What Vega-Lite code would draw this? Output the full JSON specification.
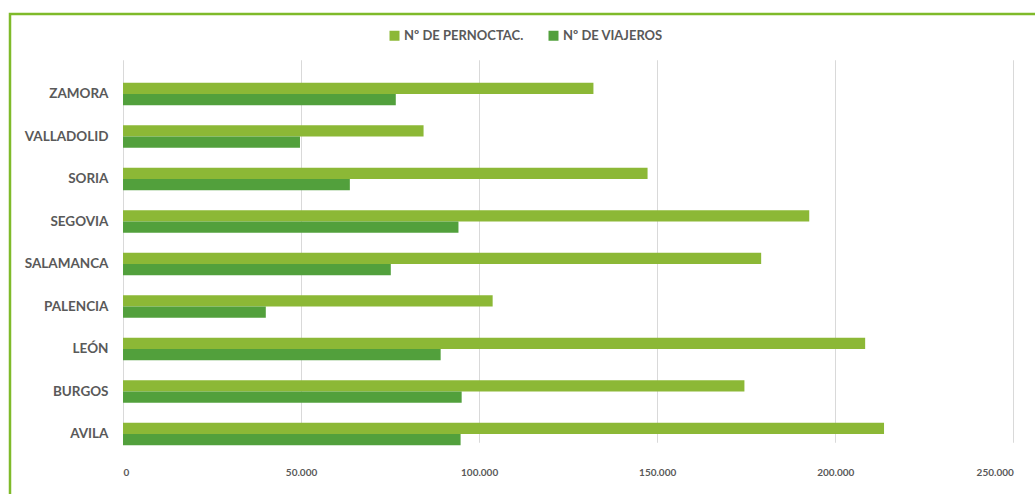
{
  "$schema": "https://vega.github.io/schema/vega-lite/v6.json",
  "autosize": "none",
  "padding": {"left": 10, "top": 14, "right": 0, "bottom": 0},
  "width": 1032,
  "height": 487,
  "background": "white",
  "config": {
    "locale": {"number": {"decimal": ",", "thousands": ".", "grouping": [3], "currency": ["", " €"]}},
    "view": {"stroke": "#7fba2a", "strokeWidth": 2.5},
    "font": "Lato"
  },
  "data": {
    "values": [
      {"provincia": "ZAMORA", "serie": "Nº DE PERNOCTAC.", "valor": 132100},
      {"provincia": "ZAMORA", "serie": "Nº DE VIAJEROS", "valor": 76600},
      {"provincia": "VALLADOLID", "serie": "Nº DE PERNOCTAC.", "valor": 84400},
      {"provincia": "VALLADOLID", "serie": "Nº DE VIAJEROS", "valor": 49700},
      {"provincia": "SORIA", "serie": "Nº DE PERNOCTAC.", "valor": 147300},
      {"provincia": "SORIA", "serie": "Nº DE VIAJEROS", "valor": 63700},
      {"provincia": "SEGOVIA", "serie": "Nº DE PERNOCTAC.", "valor": 192700},
      {"provincia": "SEGOVIA", "serie": "Nº DE VIAJEROS", "valor": 94200},
      {"provincia": "SALAMANCA", "serie": "Nº DE PERNOCTAC.", "valor": 179200},
      {"provincia": "SALAMANCA", "serie": "Nº DE VIAJEROS", "valor": 75200},
      {"provincia": "PALENCIA", "serie": "Nº DE PERNOCTAC.", "valor": 103800},
      {"provincia": "PALENCIA", "serie": "Nº DE VIAJEROS", "valor": 40100},
      {"provincia": "LEÓN", "serie": "Nº DE PERNOCTAC.", "valor": 208400},
      {"provincia": "LEÓN", "serie": "Nº DE VIAJEROS", "valor": 89200},
      {"provincia": "BURGOS", "serie": "Nº DE PERNOCTAC.", "valor": 174500},
      {"provincia": "BURGOS", "serie": "Nº DE VIAJEROS", "valor": 95100},
      {"provincia": "AVILA", "serie": "Nº DE PERNOCTAC.", "valor": 213700},
      {"provincia": "AVILA", "serie": "Nº DE VIAJEROS", "valor": 94800}
    ]
  },
  "mark": {"type": "bar"},
  "encoding": {
    "y": {
      "field": "provincia",
      "type": "nominal",
      "sort": ["ZAMORA", "VALLADOLID", "SORIA", "SEGOVIA", "SALAMANCA", "PALENCIA", "LEÓN", "BURGOS", "AVILA"],
      "scale": {"range": [58.75, 441.25], "paddingInner": 0.475, "paddingOuter": 0.2375},
      "axis": {
        "title": null,
        "orient": "left",
        "offset": -113,
        "domain": false,
        "ticks": false,
        "tickSize": 0,
        "labelPadding": 15,
        "labelFont": "Lato",
        "labelFontWeight": "bold",
        "labelFontSize": 13.5,
        "labelColor": "#595959"
      }
    },
    "yOffset": {
      "field": "serie",
      "type": "nominal",
      "sort": ["Nº DE PERNOCTAC.", "Nº DE VIAJEROS"],
      "scale": {"paddingInner": 0, "paddingOuter": 0}
    },
    "x": {
      "field": "valor",
      "type": "quantitative",
      "scale": {"domain": [0, 250000], "range": [113, 1003.3], "nice": false},
      "axis": {
        "title": null,
        "orient": "bottom",
        "offset": -46,
        "values": [0, 50000, 100000, 150000, 200000, 250000],
        "format": ",d",
        "domain": false,
        "ticks": false,
        "tickSize": 0,
        "labelPadding": 12,
        "labelFont": "Lato",
        "labelFontWeight": "bold",
        "labelFontSize": 10,
        "labelColor": "#595959",
        "grid": true,
        "gridColor": "#d9d9d9",
        "gridWidth": 1
      }
    },
    "color": {
      "field": "serie",
      "type": "nominal",
      "scale": {"domain": ["Nº DE PERNOCTAC.", "Nº DE VIAJEROS"], "range": ["#8cb836", "#52a03c"]},
      "legend": {
        "title": null,
        "orient": "none",
        "direction": "horizontal",
        "legendX": 378,
        "legendY": 15,
        "symbolType": "square",
        "symbolSize": 100,
        "symbolStrokeWidth": 0,
        "labelFont": "Lato",
        "labelFontWeight": "bold",
        "labelFontSize": 13,
        "labelColor": "#595959",
        "columnPadding": 23,
        "labelOffset": 3,
        "padding": 0
      }
    }
  }
}
